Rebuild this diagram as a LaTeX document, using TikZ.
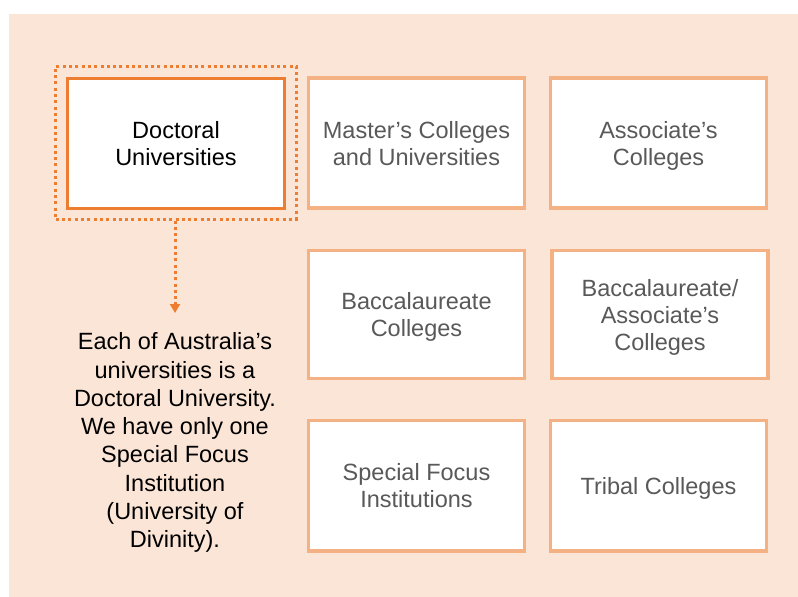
\documentclass[tikz,border=0pt]{standalone}
\usepackage{fontspec}
\setmainfont{Liberation Sans}
\usetikzlibrary{arrows.meta}
\definecolor{peach}{HTML}{FBE5D6}
\definecolor{accent}{HTML}{ED7D31}
\definecolor{lightaccent}{HTML}{F4B183}
\definecolor{greytext}{HTML}{595959}
\begin{document}
\begin{tikzpicture}[x=1pt,y=-1pt,
  boxfont/.style={font=\fontsize{23.5pt}{27pt}\selectfont},
  catbox/.style={draw=lightaccent, line width=3.2pt, fill=white, text=greytext,
    align=center, text depth=0pt, inner sep=0pt, boxfont,
    minimum width=216pt, minimum height=130pt},
  mainbox/.style={catbox, draw=accent, line width=3.4pt, text=black},
  dotline/.style={draw=accent, line width=3pt, dash pattern=on 3pt off 3.3pt},
  notetext/.style={align=center, inner sep=0pt, text=black,
    font=\fontsize{23.5pt}{28.3pt}\selectfont}
]
\useasboundingbox (0,0) rectangle (798,597);
\fill[peach] (9,14) rectangle (798,596.5);

% highlighted category with its dotted frame
\node[dotline, minimum width=240.4pt, minimum height=152.8pt, inner sep=0pt] (frame) at (176,142.6) {};
\node[mainbox, minimum width=217pt] (doctoral) at (176,143.3) {Doctoral\\Universities};

% remaining categories
\node[catbox] (master) at (416.5,143) {Master’s Colleges\\and Universities};
\node[catbox] (associate) at (658.5,143) {Associate’s\\Colleges};
\node[catbox, minimum height=128pt] (bacc) at (416.5,314.5) {Baccalaureate\\Colleges};
\node[catbox, minimum height=128pt] (baccassoc) at (660,314.5) {Baccalaureate/\\Associate’s\\Colleges};
\node[catbox, minimum height=130.5pt] (special) at (416.5,485.7) {Special Focus\\Institutions};
\node[catbox, minimum height=130.5pt] (tribal) at (658.5,485.7) {Tribal Colleges};

% explanatory note
\node[notetext, anchor=north] (note) at (175,332.5) {Each of Australia’s\\universities is a\\Doctoral University.\\We have only one\\Special Focus\\Institution\\(University of\\Divinity).};

\draw[dotline, -{Triangle[width=10pt,length=9pt]}] (frame.south -| note.north) -- ([yshift=19.5pt]note.north);
\end{tikzpicture}
\end{document}
